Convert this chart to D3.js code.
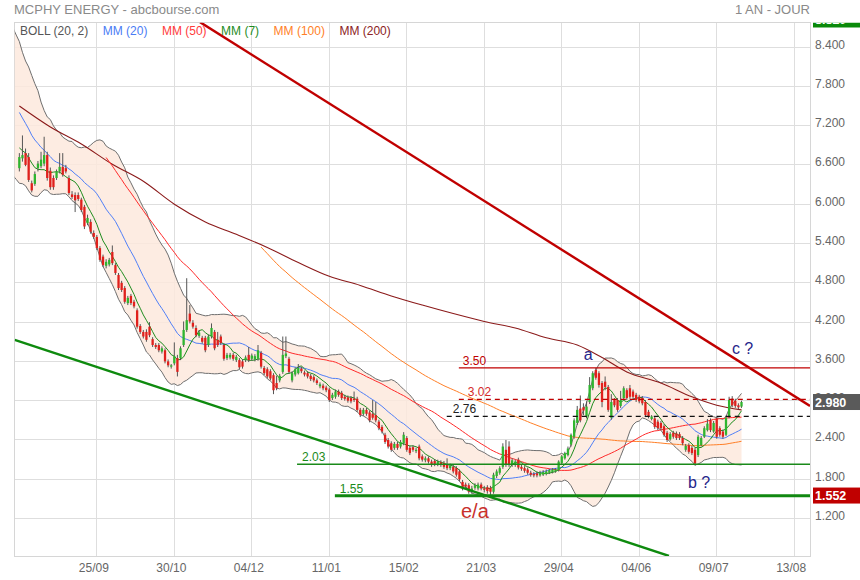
<!DOCTYPE html>
<html><head><meta charset="utf-8">
<script src="https://cdn.jsdelivr.net/npm/d3@7"></script>
<style>body{margin:0;background:#fff;}svg{display:block;font-family:"Liberation Sans",Arial,sans-serif;}</style>
</head><body><svg id="c" width="860" height="580"></svg>
<script>
// ---------------- DATA ----------------
const title = "MCPHY ENERGY - abcbourse.com";
const periodLabel = "1 AN - JOUR";
const legendNames = ["BOLL (20, 2)","MM (20)","MM (50)","MM (7)","MM (100)","MM (200)"];
const startDate = "2023-08-21";
const holidays = ["2023-12-25","2023-12-26","2024-01-01","2024-03-29","2024-04-01","2024-05-01"];
const tickDates = ["2023-09-25","2023-10-30","2023-12-04","2024-01-11","2024-02-15","2024-03-21","2024-04-29","2024-06-04","2024-07-09","2024-08-13"];
const yTicks = [1.2,1.8,2.4,3.0,3.6,4.2,4.8,5.4,6.0,6.6,7.2,7.8,8.4];
// closes before the first displayed session (history for the indicators)
const priorCloses = [8.40,8.30,8.45,8.25,8.05,8.15,7.90,7.70,7.85,7.60,7.45,7.20,7.35,7.10,6.95,7.05,6.85,6.90,6.75,6.95,6.80];
// daily [open, high, low, close]
const ohlc = [
[6.55,6.78,6.50,6.72],[6.70,7.05,6.65,6.75],[6.78,6.85,6.58,6.60],[6.72,6.78,6.34,6.37],[6.32,6.36,6.18,6.21],
[6.31,6.50,6.28,6.46],[6.55,6.66,6.50,6.62],[6.58,6.80,6.55,6.68],[6.62,7.03,6.58,6.75],[6.75,6.80,6.36,6.40],
[6.51,6.56,6.22,6.26],[6.40,6.44,6.22,6.26],[6.40,6.53,6.37,6.50],[6.50,6.78,6.47,6.57],[6.57,6.78,6.42,6.45],
[6.55,6.60,6.47,6.50],[6.40,6.44,6.14,6.17],[6.15,6.20,6.08,6.11],[6.14,6.18,5.88,6.06],[6.14,6.18,6.05,6.08],
[6.07,6.10,5.88,5.91],[5.96,5.99,5.62,5.66],[5.71,5.84,5.68,5.79],[5.73,5.77,5.55,5.58],[5.56,5.60,5.47,5.50],
[5.50,5.53,5.30,5.33],[5.33,5.36,5.12,5.15],[5.20,5.23,5.04,5.07],[5.06,5.16,5.02,5.12],[5.08,5.18,5.05,5.15],
[5.27,5.37,5.07,5.10],[5.07,5.10,4.92,4.95],[4.92,4.95,4.69,4.72],[4.80,4.83,4.66,4.69],[4.72,4.75,4.48,4.51],
[4.49,4.60,4.46,4.57],[4.60,4.63,4.46,4.49],[4.51,4.54,4.41,4.44],[4.38,4.41,4.10,4.13],[4.14,4.17,4.02,4.05],
[4.05,4.08,3.95,3.98],[4.05,4.09,3.90,3.93],[4.13,4.20,3.97,4.00],[3.94,3.97,3.82,3.85],[3.85,3.88,3.79,3.82],
[3.85,3.88,3.74,3.77],[3.75,3.83,3.72,3.80],[3.77,3.80,3.57,3.60],[3.60,3.63,3.51,3.54],[3.52,3.56,3.49,3.54],
[3.57,3.89,3.54,3.68],[3.65,3.70,3.37,3.44],[3.65,3.83,3.62,3.80],[3.85,4.21,3.82,4.08],[4.08,4.87,4.05,4.23],
[4.33,4.46,4.18,4.21],[4.19,4.23,4.10,4.13],[4.11,4.15,3.97,4.00],[3.99,4.08,3.96,4.04],[3.96,3.99,3.87,3.90],
[3.96,3.99,3.74,3.77],[3.85,4.01,3.82,3.98],[3.98,4.18,3.95,4.11],[4.05,4.08,3.77,3.80],[3.93,4.05,3.82,3.85],
[3.98,4.01,3.85,3.88],[3.85,3.88,3.61,3.64],[3.65,3.73,3.62,3.70],[3.66,3.73,3.63,3.70],[3.70,3.73,3.61,3.64],
[3.62,3.70,3.59,3.67],[3.62,3.65,3.48,3.51],[3.60,3.63,3.49,3.52],[3.62,3.69,3.59,3.66],[3.70,3.82,3.59,3.62],
[3.64,3.72,3.61,3.69],[3.63,3.71,3.60,3.68],[3.64,3.85,3.61,3.77],[3.73,3.76,3.49,3.52],[3.50,3.53,3.39,3.42],
[3.48,3.51,3.34,3.37],[3.45,3.48,3.31,3.34],[3.39,3.42,3.10,3.16],[3.27,3.38,3.16,3.19],[3.31,3.41,3.28,3.38],
[3.44,3.98,3.41,3.70],[3.68,3.98,3.65,3.72],[3.64,3.67,3.41,3.44],[3.31,3.45,3.28,3.42],[3.40,3.51,3.37,3.48],
[3.42,3.56,3.40,3.50],[3.49,3.52,3.42,3.45],[3.43,3.46,3.37,3.40],[3.42,3.45,3.34,3.37],[3.38,3.41,3.30,3.33],
[3.36,3.39,3.28,3.31],[3.31,3.34,3.24,3.27],[3.22,3.28,3.19,3.25],[3.23,3.26,3.16,3.19],[3.20,3.23,3.13,3.16],
[3.17,3.20,2.98,3.01],[3.04,3.12,3.01,3.09],[3.06,3.17,3.03,3.14],[3.14,3.17,3.06,3.09],[3.12,3.15,3.01,3.04],
[3.06,3.09,3.00,3.03],[3.05,3.08,2.97,3.00],[3.04,3.07,2.96,2.99],[3.03,3.14,2.98,3.01],[3.03,3.06,2.83,2.86],
[2.86,2.89,2.75,2.78],[2.80,2.89,2.77,2.86],[2.86,2.89,2.77,2.80],[2.82,2.85,2.67,2.70],[2.80,3.01,2.71,2.74],
[2.78,2.98,2.67,2.70],[2.68,2.71,2.55,2.58],[2.60,2.63,2.50,2.53],[2.48,2.51,2.34,2.37],[2.40,2.43,2.27,2.30],
[2.35,2.38,2.22,2.25],[2.28,2.37,2.25,2.34],[2.34,2.37,2.25,2.28],[2.30,2.40,2.27,2.37],[2.35,2.52,2.32,2.48],
[2.43,2.46,2.22,2.25],[2.28,2.31,2.17,2.20],[2.29,2.32,2.22,2.25],[2.23,2.28,2.20,2.25],[2.30,2.33,2.09,2.12],
[2.15,2.18,2.07,2.10],[2.09,2.15,2.06,2.12],[2.12,2.15,2.04,2.07],[2.07,2.10,1.99,2.02],[2.08,2.11,2.00,2.03],
[2.03,2.10,2.00,2.07],[2.06,2.09,1.99,2.02],[2.05,2.08,1.96,1.99],[2.02,2.12,1.94,1.97],[1.97,2.04,1.94,2.01],
[1.99,2.02,1.89,1.92],[1.97,2.00,1.84,1.87],[1.92,1.95,1.77,1.80],[1.76,1.79,1.63,1.66],[1.72,1.75,1.66,1.69],
[1.71,1.74,1.58,1.61],[1.61,1.70,1.58,1.66],[1.67,1.74,1.64,1.71],[1.66,1.75,1.63,1.72],[1.72,1.75,1.63,1.66],
[1.66,1.70,1.60,1.64],[1.68,1.71,1.58,1.62],[1.67,1.70,1.552,1.61],[1.61,1.90,1.58,1.87],[1.85,1.95,1.82,1.92],
[1.90,2.00,1.87,1.97],[1.99,2.35,1.96,2.30],[2.25,2.40,1.99,2.02],[2.30,2.38,1.99,2.02],[2.02,2.12,1.99,2.09],
[2.02,2.10,1.99,2.07],[2.10,2.13,1.95,1.98],[1.99,2.02,1.93,1.96],[1.97,2.00,1.90,1.93],[1.95,1.98,1.87,1.90],
[1.90,1.93,1.84,1.87],[1.88,1.91,1.83,1.86],[1.89,1.92,1.83,1.86],[1.86,1.93,1.84,1.90],[1.87,1.94,1.85,1.91],
[1.88,1.95,1.86,1.92],[1.90,1.96,1.88,1.94],[1.91,1.97,1.89,1.95],[1.92,1.97,1.90,1.95],[1.94,2.09,1.92,2.07],
[2.05,2.17,2.03,2.15],[2.12,2.22,2.10,2.20],[2.17,2.30,2.15,2.27],[2.33,2.50,2.30,2.48],[2.45,2.73,2.42,2.70],
[2.66,2.92,2.63,2.86],[2.88,3.08,2.67,2.70],[2.90,2.96,2.78,2.85],[2.76,2.99,2.73,2.91],[2.98,3.36,2.95,3.24],
[3.19,3.45,3.16,3.42],[3.47,3.50,3.32,3.35],[3.42,3.45,3.20,3.24],[3.27,3.30,2.90,2.98],[3.29,3.37,3.16,3.21],
[3.21,3.24,2.83,2.86],[2.74,3.10,2.71,2.98],[3.01,3.04,2.90,2.93],[3.01,3.04,2.83,2.86],[2.92,3.15,2.89,3.01],
[3.04,3.22,3.01,3.19],[3.16,3.19,3.01,3.04],[3.19,3.24,3.03,3.06],[3.14,3.17,3.03,3.06],[3.09,3.12,2.98,3.01],
[3.06,3.09,2.96,2.99],[3.04,3.07,2.93,2.96],[2.98,3.01,2.75,2.78],[2.83,2.86,2.73,2.76],[2.72,2.78,2.70,2.76],
[2.73,2.76,2.57,2.60],[2.68,2.71,2.55,2.58],[2.66,2.69,2.55,2.58],[2.61,2.64,2.45,2.48],[2.51,2.54,2.37,2.40],
[2.41,2.52,2.39,2.49],[2.51,2.54,2.42,2.45],[2.50,2.53,2.40,2.43],[2.49,2.52,2.40,2.43],[2.43,2.46,2.32,2.35],
[2.25,2.34,2.22,2.31],[2.32,2.35,2.19,2.22],[2.28,2.31,2.17,2.20],[2.25,2.28,2.01,2.04],[2.17,2.48,2.14,2.45],
[2.32,2.46,2.30,2.43],[2.45,2.61,2.43,2.58],[2.55,2.72,2.53,2.65],[2.70,2.73,2.52,2.55],[2.53,2.69,2.51,2.66],
[2.73,2.76,2.42,2.45],[2.58,2.61,2.45,2.48],[2.53,2.56,2.42,2.45],[2.48,2.77,2.46,2.74],[2.76,3.06,2.73,3.01],
[3.03,3.07,2.90,2.93],[3.00,3.03,2.89,2.92],[2.93,2.96,2.87,2.90],[2.91,3.00,2.89,2.98]
];
// MM(200) (session index -> value)
const mm200Index = [0,10,20,30,40,50,60,70,80,90,100,110,120,130,140,150,160,170,180,188,196,207,217,225,233];
const mm200Value = [7.50,7.18,6.92,6.61,6.35,6.00,5.73,5.54,5.34,5.11,4.90,4.76,4.60,4.46,4.33,4.21,4.11,3.96,3.85,3.66,3.44,3.27,3.06,2.93,2.86];
// drawn levels and labels
const levelValues = [3.50, 3.02, 2.76, 2.03, 1.55];
const levelLabels = ["3.50","3.02","2.76","2.03","1.55"];
const levelStart = [141.8, 141.8, 137.9, 89.6, 101.8];   // session index where each level starts
const resistanceLine = [[58.3, 8.78],[255.1, 2.92]];     // [session index, price]
const supportLine = [[-1.5, 3.93],[209.6, 0.63]];
const notes = ["a","c ?","b ?","e/a"];
const noteAt = [[183.5,3.62],[229.9,3.71],[215.7,1.67],[142.5,1.21]];
const periodHigh = 8.82;

// ---------------- LAYOUT ----------------
const L = 14.7, R = 810, T = 22.7, B = 556;
const svg = d3.select("#c");
const x = d3.scaleLinear().domain([-1.5, 255.1]).range([L, R]);
const y = d3.scaleLinear().domain([0.629, 8.771]).range([B, T]);

// trading calendar
const hol = new Set(holidays);
const days = [];
for (let d = new Date(startDate + "T12:00:00Z"); days.length < 300; d.setUTCDate(d.getUTCDate() + 1)) {
  const wd = d.getUTCDay(), iso = d.toISOString().slice(0, 10);
  if (wd === 0 || wd === 6 || hol.has(iso)) continue;
  days.push(iso);
}
const ticks = tickDates.map(t => ({i: days.indexOf(t), label: t.slice(8, 10) + "/" + t.slice(5, 7)}));

svg.append("defs").append("clipPath").attr("id", "plot")
  .append("rect").attr("x", L).attr("y", T).attr("width", R - L).attr("height", B - T);
svg.select("defs").append("clipPath").attr("id", "axisclip")
  .append("rect").attr("x", R).attr("y", T).attr("width", 860 - R).attr("height", 580 - T);

// grid
const grid = svg.append("g").attr("stroke", "#dedede").attr("stroke-width", 1).attr("shape-rendering", "crispEdges");
yTicks.forEach(v => grid.append("line").attr("x1", L).attr("x2", R).attr("y1", y(v)).attr("y2", y(v)));
ticks.forEach(t => grid.append("line").attr("x1", x(t.i)).attr("x2", x(t.i)).attr("y1", T).attr("y2", B));
grid.append("rect").attr("x", L).attr("y", T).attr("width", R - L).attr("height", B - T).attr("fill", "none").attr("stroke", "#d6d6d6");

// indicators
const closes = priorCloses.concat(ohlc.map(d => d[3]));
const off = priorCloses.length;
function sma(n, i) {
  const k = i + off; if (k - n + 1 < 0) return null;
  let s = 0; for (let j = k - n + 1; j <= k; j++) s += closes[j]; return s / n;
}
function boll(i) {
  const m = sma(20, i); if (m === null) return null;
  const k = i + off; let v = 0;
  for (let j = k - 19; j <= k; j++) v += (closes[j] - m) ** 2;
  const sd = Math.sqrt(v / 20);
  return {i, up: m + 2 * sd, lo: m - 2 * sd};
}
const band = d3.range(-2, ohlc.length).map(boll).filter(d => d);

const plot = svg.append("g").attr("clip-path", "url(#plot)");
plot.append("path").datum(band)
  .attr("d", d3.area().x(d => x(d.i)).y0(d => y(d.lo)).y1(d => y(d.up)))
  .attr("fill", "#fde9dd").attr("fill-opacity", 0.85);
["up", "lo"].forEach(k => plot.append("path").datum(band)
  .attr("d", d3.line().x(d => x(d.i)).y(d => y(d[k])))
  .attr("fill", "none").attr("stroke", "#6e6e6e").attr("stroke-width", 1));

function maSeries(n) {
  return d3.range(0, ohlc.length).map(i => ({i, v: sma(n, i)})).filter(d => d.v !== null);
}
const lineGen = d3.line().x(d => x(d.i)).y(d => y(d.v));
plot.append("path").datum(mm200Index.map((i, k) => ({i, v: mm200Value[k]})))
  .attr("d", lineGen.curve(d3.curveMonotoneX)).attr("fill", "none").attr("stroke", "#8b1a1a").attr("stroke-width", 1.1);
lineGen.curve(d3.curveLinear);
const maDefs = [[100, "#ff7f27"], [50, "#ff2a2a"], [20, "#4f7ff7"], [7, "#1e8c1e"]];
maDefs.forEach(([n, c]) => plot.append("path").datum(maSeries(n))
  .attr("d", lineGen).attr("fill", "none").attr("stroke", c).attr("stroke-width", 1));

// candles
const cw = 2.3;
const cg = plot.append("g");
ohlc.forEach((d, i) => {
  const [o, h, l, c] = d;
  const up = c >= o;
  cg.append("line").attr("x1", x(i)).attr("x2", x(i)).attr("y1", y(h)).attr("y2", y(l))
    .attr("stroke", "#555").attr("stroke-width", 1);
  const y0 = y(Math.max(o, c)), y1 = y(Math.min(o, c));
  cg.append("rect").attr("x", x(i) - cw / 2).attr("width", cw)
    .attr("y", y0).attr("height", Math.max(1, y1 - y0))
    .attr("fill", up ? "#2fb52f" : "#e0201c");
});

// levels
const levelStyle = [
  {c: "#c00000", w: 1.3, dash: null, lc: "#c00000"},
  {c: "#c00000", w: 1.3, dash: "5,4", lc: "#d42a2a"},
  {c: "#111", w: 1.3, dash: "5,4", lc: "#222"},
  {c: "#1a8a1a", w: 1.5, dash: null, lc: "#1a8a1a"},
  {c: "#118811", w: 3, dash: null, lc: "#1a8a1a"}];
const labelDx = [4, 9, 6, 5, 5];
levelValues.forEach((v, k) => {
  const s = levelStyle[k];
  plot.append("line").attr("x1", x(levelStart[k])).attr("x2", R).attr("y1", y(v)).attr("y2", y(v))
    .attr("stroke", s.c).attr("stroke-width", s.w).attr("stroke-dasharray", s.dash);
  svg.append("text").attr("x", x(levelStart[k]) + labelDx[k]).attr("y", y(v) - 3)
    .attr("font-size", 12).attr("fill", s.lc).text(levelLabels[k]);
});

// trendlines
plot.append("line").attr("x1", x(resistanceLine[0][0])).attr("y1", y(resistanceLine[0][1]))
  .attr("x2", x(resistanceLine[1][0])).attr("y2", y(resistanceLine[1][1]))
  .attr("stroke", "#c00000").attr("stroke-width", 2.4);
plot.append("line").attr("x1", x(supportLine[0][0])).attr("y1", y(supportLine[0][1]))
  .attr("x2", x(supportLine[1][0])).attr("y2", y(supportLine[1][1]))
  .attr("stroke", "#0e8a0e").attr("stroke-width", 2.4);

// notes
const noteStyle = [
  {fs: 16, c: "#26268a", a: "middle"}, {fs: 16, c: "#26268a", a: "start"},
  {fs: 16, c: "#26268a", a: "start"}, {fs: 20, c: "#c8302c", a: "start"}];
notes.forEach((t, k) => svg.append("text").attr("x", x(noteAt[k][0])).attr("y", y(noteAt[k][1]))
  .attr("font-size", noteStyle[k].fs).attr("fill", noteStyle[k].c).attr("text-anchor", noteStyle[k].a).text(t));

// axes labels
const fmt = d3.format(".3f");
const ax = svg.append("g").attr("clip-path", "url(#axisclip)");
yTicks.forEach(v => ax.append("text").attr("x", R + 5).attr("y", y(v) + 1.5)
  .attr("font-size", 12).attr("fill", "#666").text(fmt(v)));
ticks.forEach(t => svg.append("text").attr("x", x(t.i) - 3).attr("y", B + 16)
  .attr("font-size", 12).attr("fill", "#666").attr("text-anchor", "middle")
  .attr("font-family", "'Liberation Sans Narrow','Liberation Sans',Arial,sans-serif").text(t.label));

function valueBox(v, color) {
  const g = ax.append("g");
  g.append("rect").attr("x", R + 3).attr("y", y(v) - 8).attr("width", 860 - R - 3).attr("height", 16).attr("fill", color);
  g.append("text").attr("x", R + 5).attr("y", y(v) + 4.5).attr("font-size", 12.5).attr("font-weight", "bold")
    .attr("fill", "#fff").text(fmt(v));
}
valueBox(periodHigh, "#0a8a0a");
valueBox(ohlc[ohlc.length - 1][3], "#5a5a5a");
valueBox(d3.min(ohlc, d => d[2]), "#c00000");

// title & legend
svg.append("text").attr("x", 14).attr("y", 13.5).attr("font-size", 13).attr("fill", "#8a8a8a").text(title);
svg.append("text").attr("x", R).attr("y", 13.5).attr("font-size", 13).attr("fill", "#8a8a8a").attr("text-anchor", "end").text(periodLabel);
const legendColors = ["#555", "#4a7cf5", "#ff3b3b", "#1e8c1e", "#ff7f27", "#8b2323"];
let lx = 20;
legendNames.forEach((n, k) => {
  const t = svg.append("text").attr("x", lx).attr("y", 34.5).attr("font-size", 12).attr("fill", legendColors[k]).text(n);
  lx += t.node().getComputedTextLength() + 14.5;
});
</script></body></html>
